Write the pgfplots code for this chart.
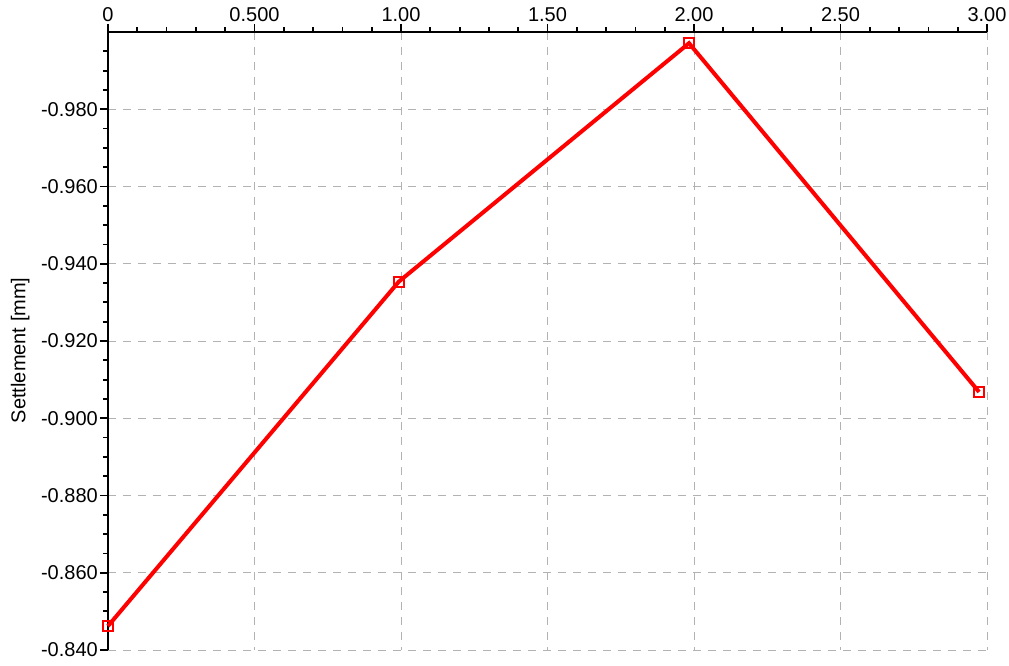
\documentclass[border=0pt]{standalone}
\usepackage{fontspec}
\setmainfont{Liberation Sans}
\usepackage{pgfplots}
\pgfplotsset{compat=1.18}
\begin{document}
\fontsize{20}{24}\selectfont
\begin{tikzpicture}
\useasboundingbox (-108pt,-16pt) rectangle (901pt,650pt);
\begin{axis}[
  at={(0,0)}, anchor=south west,
  scale only axis, width=879pt, height=618pt,
  xmin=0, xmax=3, ymin=-1.0, ymax=-0.84, y dir=reverse,
  axis x line*=top, axis y line*=left,
  axis line style={line width=2pt},
  xtick={0,0.5,1,1.5,2,2.5,3},
  xticklabels={0,0.500,1.00,1.50,2.00,2.50,3.00},
  minor x tick num=4,
  ytick={-0.98,-0.96,-0.94,-0.92,-0.90,-0.88,-0.86,-0.84},
  yticklabels={-0.980,-0.960,-0.940,-0.920,-0.900,-0.880,-0.860,-0.840},
  minor ytick={-0.995,-0.99,-0.985,-0.975,-0.97,-0.965,-0.955,-0.95,-0.945,-0.935,-0.93,-0.925,-0.915,-0.91,-0.905,-0.895,-0.89,-0.885,-0.875,-0.87,-0.865,-0.855,-0.85,-0.845},
  tick align=outside,
  major tick length=8pt, minor tick length=5pt,
  every tick/.style={black, line width=1.8pt},
  grid=major,
  major grid style={line width=1pt, color=black!30, dash pattern=on 8pt off 7pt},
  tick label style={font=\fontsize{20}{24}\selectfont},
  xticklabel style={inner sep=2pt},
  yticklabel style={inner sep=2pt},
  ylabel={Settlement [mm]},
  ylabel style={at={(axis description cs:-0.1,0.485)}, anchor=center, font=\fontsize{20}{24}\selectfont},
  clip=false,
]
\addplot[color=red, line width=4pt, mark=square, mark size=5pt, mark options={line width=2pt, fill=none}]
coordinates {(0,-0.8462) (0.993,-0.9354) (1.983,-0.9971) (2.973,-0.9068)};
\end{axis}
\end{tikzpicture}
\end{document}
